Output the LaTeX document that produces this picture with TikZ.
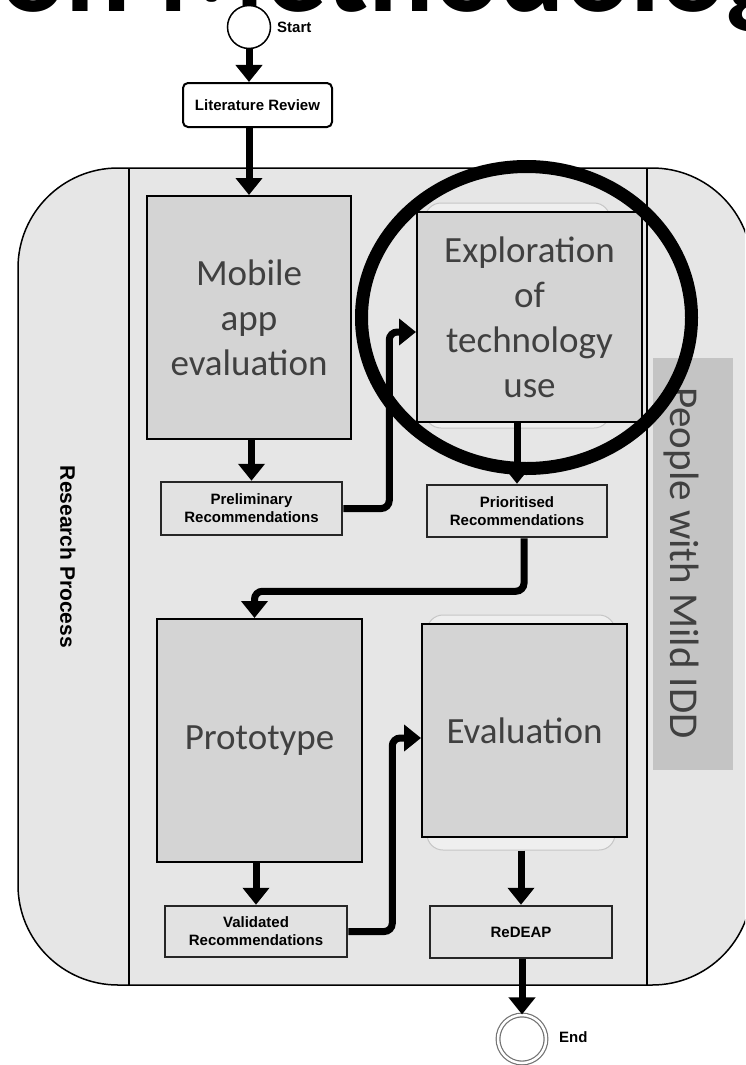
\documentclass[tikz,border=0pt]{standalone}
\usepackage{fontspec}
\setmainfont{Liberation Sans}
\newfontfamily\calfont{Carlito}
\usetikzlibrary{arrows.meta}

\definecolor{lanebg}{HTML}{E6E6E6}
\definecolor{stepfill}{HTML}{D4D4D4}
\definecolor{smallfill}{HTML}{E2E2E2}
\definecolor{textgray}{HTML}{404040}
\definecolor{peoplefill}{HTML}{C4C4C4}
\definecolor{ghostfill}{HTML}{EFEFEF}
\definecolor{ghostdraw}{HTML}{C6C6C6}

\begin{document}
\begin{tikzpicture}[x=1pt,y=-1pt,
  flow/.style={line width=7pt,-{Triangle[width=26pt,length=17pt]},rounded corners=8pt},
  mainbox/.style={draw=black,line width=2pt,fill=stepfill,inner sep=0pt,align=center,
    text=textgray,font=\calfont\fontsize{37}{45}\selectfont},
  smallbox/.style={draw=black!85,line width=2.5pt,fill=smallfill,inner sep=0pt,align=center,
    font=\bfseries\fontsize{15}{18}\selectfont},
  ghost/.style={draw=ghostdraw,line width=1pt,fill=ghostfill,rounded corners=16pt,inner sep=0pt},
  termlabel/.style={anchor=west,inner sep=0pt,font=\bfseries\fontsize{15}{18}\selectfont}]

\useasboundingbox (0,0) rectangle (745,1065);
\clip (0,0) rectangle (745,1065);
\fill[white] (0,0) rectangle (745,1065);

% heading above the diagram
\node[anchor=base west,inner sep=0pt,font=\calfont\bfseries\fontsize{122}{124}\selectfont]
  (heading) at (0,12) {on Methodolog};

% pool with its two lanes
\draw[fill=lanebg,line width=1.5pt,rounded corners=100pt] (18,168) rectangle (752,985);
\draw[line width=1.5pt] (129,168) -- (129,985);
\draw[line width=1.5pt] (647,168) -- (647,985);
\node[rotate=-90,inner sep=0pt,font=\bfseries\fontsize{21}{24}\selectfont] (lane) at (68,557) {Research Process};

\node[fill=peoplefill,minimum width=80pt,minimum height=412pt,inner sep=0pt] (peoplebox) at (693,564) {};
\node[rotate=-90,inner sep=0pt,text=textgray,font=\calfont\fontsize{41}{44}\selectfont] (people) at (681,563) {People with Mild IDD};

% start and literature review
\node[circle,draw=black,line width=1.5pt,fill=white,minimum size=43pt,inner sep=0pt] (start) at (249,27) {};
\node[termlabel] (startlbl) at (277,27) {Start};
\node[draw=black,line width=2pt,fill=white,rounded corners=5pt,minimum width=149pt,minimum height=44pt,
  inner sep=0pt,font=\bfseries\fontsize{15}{18}\selectfont] (lit) at (257.5,105) {Literature Review};

% research steps
\node[ghost,minimum width=185pt,minimum height=225pt] (ghostA) at (517.5,315.5) {};
\node[ghost,minimum width=188pt,minimum height=235pt] (ghostB) at (521,732.5) {};

\node[mainbox,minimum width=204pt,minimum height=243pt] (mobile) at (249,317.5) {Mobile\\app\\evaluation};
\node[mainbox,minimum width=225pt,minimum height=210pt] (explore) at (529.5,317) {Exploration\\of\\technology\\use};
\node[mainbox,minimum width=205pt,minimum height=243pt] (proto) at (259.5,740.5) {Prototype};
\node[mainbox,minimum width=205pt,minimum height=213pt] (eval) at (524.5,730.5) {Evaluation};

\node[smallbox,minimum width=181pt,minimum height=53pt] (prelim) at (251.5,508.5) {Preliminary\\Recommendations};
\node[smallbox,minimum width=180pt,minimum height=52pt] (prior) at (517,511) {Prioritised\\Recommendations};
\node[smallbox,minimum width=182pt,minimum height=51pt] (valid) at (256,931.5) {Validated\\Recommendations};
\node[smallbox,minimum width=182pt,minimum height=52pt] (redeap) at (521,932) {ReDEAP};

% end event
\node[circle,draw=black!55,line width=1.2pt,double=white,double distance=2.5pt,fill=white,
  minimum size=48pt,inner sep=0pt] (end) at (522,1039) {};
\node[termlabel] (endlbl) at (559,1037) {End};

% sequence flows
\draw[flow] (start.south) -- (start |- lit.north);
\draw[flow] (mobile |- lit.south) -- (mobile.north);
\draw[flow] (prelim |- mobile.south) -- (prelim.north);
\draw[flow] (prelim.east) -- ++(46,0) |- ([yshift=-15pt]explore.west);
\draw[flow] (prior |- explore.south) -- (prior.north);
\draw[flow] ([xshift=7pt]prior.south) -- ++(0,53) -| ([xshift=-5pt]proto.north);
\draw[flow] (valid |- proto.south) -- (valid.north);
\draw[flow] (valid.east) -- ++(44,0) |- ([yshift=-7.5pt]eval.west);
\draw[flow] (redeap |- ghostB.south) -- (redeap.north);
\draw[flow] (end |- redeap.south) -- (end.north);

% highlight ring
\draw[line width=13pt] (526.5,317.5) ellipse [x radius=165pt,y radius=151pt];

\end{tikzpicture}
\end{document}
